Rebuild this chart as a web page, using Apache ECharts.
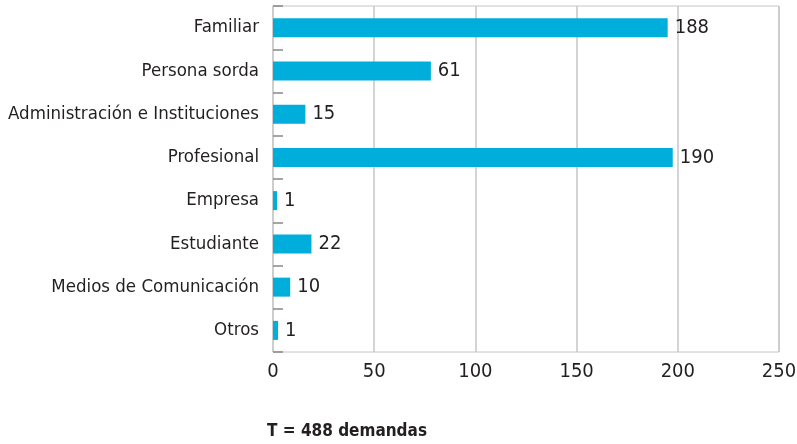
<!DOCTYPE html>
<html>
<head>
<meta charset="utf-8">
<script src="https://cdn.jsdelivr.net/npm/echarts@6/dist/echarts.min.js"></script>
<style>
  html, body { margin: 0; padding: 0; background: #fff; }
  #main { width: 797px; height: 444px; }
</style>
</head>
<body>
<div id="main"></div>
<script>
// categories, top to bottom
const categories = [
  "Familiar",
  "Persona sorda",
  "Administración e Instituciones",
  "Profesional",
  "Empresa",
  "Estudiante",
  "Medios de Comunicación",
  "Otros"
];
// bar lengths as drawn
const barValues = [195, 78, 16, 197.5, 2, 19, 8.5, 2.5];
// numbers printed next to the bars
const barLabels = [188, 61, 15, 190, 1, 22, 10, 1];
const xTicks = [0, 50, 100, 150, 200, 250];

const font = "'Liberation Sans Narrow', 'DejaVu Sans Condensed', sans-serif";
const textColor = "#231f20";
const gridColor = "#c6c6c6";

const options = {
  animation: false,
  grid: {
    left: 273,
    right: 18,
    top: 6,
    bottom: 92,
    outerBoundsMode: "none",
    containLabel: false,
    show: true,
    borderColor: gridColor,
    borderWidth: 1
  },
  xAxis: {
    type: "value",
    min: xTicks[0],
    max: xTicks[xTicks.length - 1],
    interval: 50,
    axisLine: { show: false },
    axisTick: { show: false },
    splitLine: { show: true, lineStyle: { color: gridColor, width: 1.5 } },
    axisLabel: {
      color: textColor,
      fontFamily: font,
      fontSize: 20,
      margin: 10
    }
  },
  yAxis: {
    type: "category",
    inverse: true,
    data: categories,
    axisLine: { show: false },
    axisTick: {
      show: true,
      inside: true,
      length: 10,
      lineStyle: { color: "#888", width: 1.5 }
    },
    axisLabel: {
      color: textColor,
      fontFamily: font,
      fontSize: 18.5,
      margin: 14
    }
  },
  series: [
    {
      type: "bar",
      data: barValues,
      barWidth: 19,
      itemStyle: { color: "#00aedb" },
      label: {
        show: true,
        position: "right",
        distance: 7,
        color: textColor,
        fontFamily: font,
        fontSize: 20,
        formatter: (p) => String(barLabels[p.dataIndex])
      }
    }
  ],
  graphic: [
    {
      type: "text",
      left: 267,
      top: 423,
      style: {
        text: "T = 488 demandas",
        fill: textColor,
        font: "bold 17px " + font
      }
    }
  ]
};

let myChart = echarts.init(document.getElementById("main"));
myChart.setOption(options);
</script>
</body>
</html>
